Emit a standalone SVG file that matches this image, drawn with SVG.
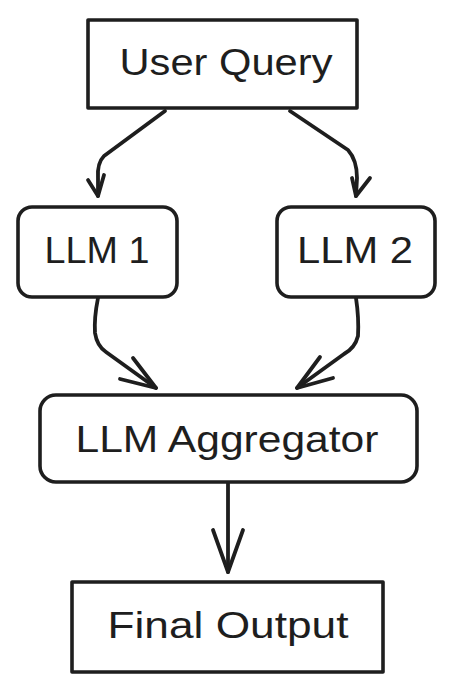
<svg xmlns="http://www.w3.org/2000/svg" width="454" height="692" viewBox="0 0 454 692">
<style>
.box{fill:#ffffff;stroke:#1e1e1e;stroke-width:3.6;stroke-linejoin:round}
.lbl{font-family:"Liberation Sans","DejaVu Sans",sans-serif;font-size:37px;fill:#1e1e1e;text-anchor:middle}
.edge{fill:none;stroke:#1e1e1e;stroke-width:3.8;stroke-linecap:round;stroke-linejoin:round}
</style>
<rect width="454" height="692" fill="#ffffff"/>
<g id="connectors">
<path class="edge" d="M165 111 L104 156 Q97 163 98 178 L98 196"/>
<path class="edge" d="M88 180 L98 196 L104 175"/>
<path class="edge" d="M290 111 L348 150 Q357 160 357 178 L356 196"/>
<path class="edge" d="M352 178 L356 196 L370 178"/>
<path class="edge" d="M98 298 Q94 318 95 333 Q97 346 106 352 L156 388"/>
<path class="edge" d="M133 358 L156 388 L120 379"/>
<path class="edge" d="M356 298 Q359 318 358 336 Q355 348 344 354 L297 388"/>
<path class="edge" d="M320 357 L297 388 L333 378"/>
<path class="edge" d="M228 483 L228 572"/>
<path class="edge" d="M213 530 L228 572 L243 530"/>
</g>
<g id="user-query">
<rect class="box" x="88" y="20" width="269" height="88"/>
<text class="lbl" x="226" y="75" textLength="213" lengthAdjust="spacingAndGlyphs">User Query</text>
</g>
<g id="llm1">
<rect class="box" x="18" y="207" width="159" height="90" rx="14"/>
<text class="lbl" x="97" y="263" textLength="105" lengthAdjust="spacingAndGlyphs">LLM 1</text>
</g>
<g id="llm2">
<rect class="box" x="277" y="207" width="158" height="90" rx="14"/>
<text class="lbl" x="355" y="263" textLength="116" lengthAdjust="spacingAndGlyphs">LLM 2</text>
</g>
<g id="llm-aggregator">
<rect class="box" x="40" y="395" width="377" height="87" rx="16"/>
<text class="lbl" x="227" y="452" textLength="303" lengthAdjust="spacingAndGlyphs">LLM Aggregator</text>
</g>
<g id="final-output">
<rect class="box" x="72" y="582" width="311" height="90"/>
<text class="lbl" x="228" y="638" textLength="241" lengthAdjust="spacingAndGlyphs">Final Output</text>
</g>
</svg>
